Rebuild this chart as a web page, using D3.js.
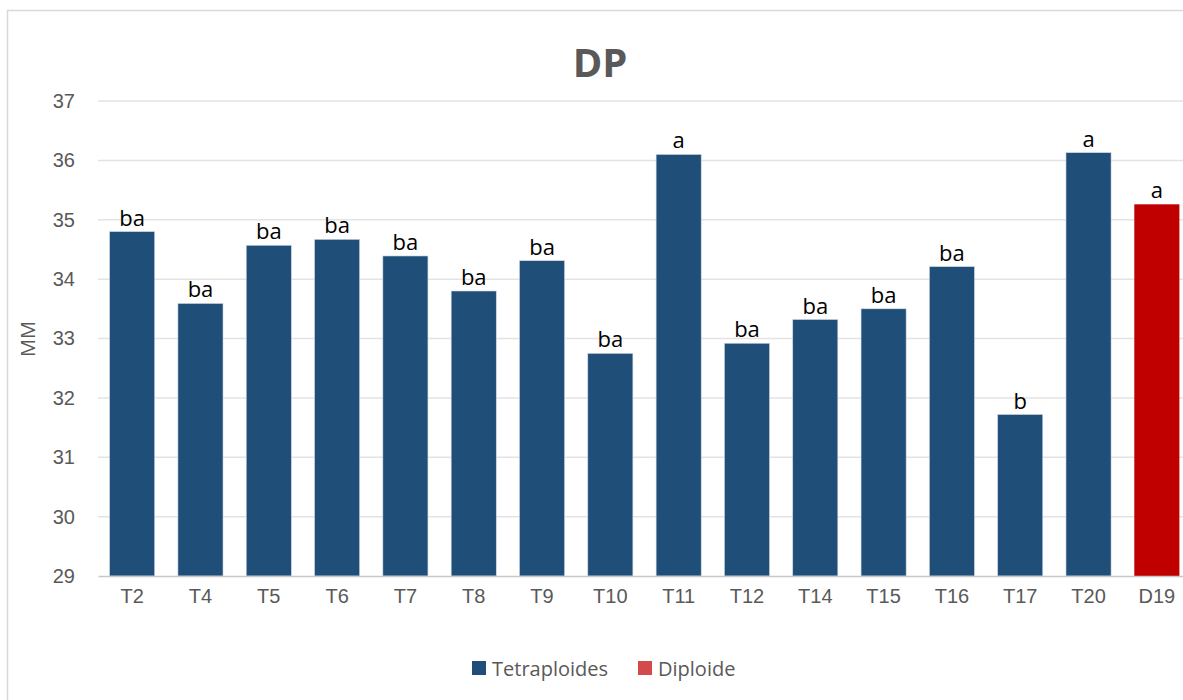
<!DOCTYPE html>
<html>
<head>
<meta charset="utf-8">
<script src="https://cdn.jsdelivr.net/npm/d3@7"></script>
<style>
  body { margin: 0; background: #fff; }
  svg { font-family: "Open Sans", "Noto Sans", sans-serif; }
</style>
</head>
<body>
<svg id="chart" width="1183" height="700"></svg>
<script>
// chart values
var categories = ["T2","T4","T5","T6","T7","T8","T9","T10","T11","T12","T14","T15","T16","T17","T20","D19"];
var values = [34.80, 33.59, 34.57, 34.67, 34.39, 33.80, 34.31, 32.75, 36.10, 32.92, 33.32, 33.50, 34.21, 31.72, 36.13, 35.26];
var letters = ["ba","ba","ba","ba","ba","ba","ba","ba","a","ba","ba","ba","ba","b","a","a"];
var groups = ["Tetraploides","Tetraploides","Tetraploides","Tetraploides","Tetraploides","Tetraploides","Tetraploides","Tetraploides","Tetraploides","Tetraploides","Tetraploides","Tetraploides","Tetraploides","Tetraploides","Tetraploides","Diploide"];
var yTicks = [29, 30, 31, 32, 33, 34, 35, 36, 37];
var legendNames = ["Tetraploides", "Diploide"];

var barColor = {"Tetraploides": "#1F4E79", "Diploide": "#C00000"};
var legendColor = {"Tetraploides": "#1F4E79", "Diploide": "#D24A4A"};

var data = categories.map(function(c, i) {
  return {cat: c, val: values[i], letter: letters[i], group: groups[i]};
});

var svg = d3.select("#chart");

// outer border
svg.append("rect")
  .attr("x", 7.5).attr("y", 10.5)
  .attr("width", 1200).attr("height", 700)
  .attr("fill", "none")
  .attr("stroke", "#d9d9d9")
  .attr("stroke-width", 1.5);

var x = d3.scaleBand()
  .domain(categories)
  .range([98, 1191])
  .paddingInner(0.34)
  .paddingOuter(0.17);

var y = d3.scaleLinear()
  .domain([29, 37])
  .range([576, 101]);

// gridlines
svg.append("g").selectAll("line")
  .data(yTicks.slice(1))
  .enter().append("line")
  .attr("x1", 98).attr("x2", 1191)
  .attr("y1", function(d) { return y(d); })
  .attr("y2", function(d) { return y(d); })
  .attr("stroke", "#e3e3e3")
  .attr("stroke-width", 1.5);

// y axis labels
var yAxis = svg.append("g")
  .attr("transform", "translate(98,0)")
  .call(d3.axisLeft(y).tickValues(yTicks).tickSize(0).tickPadding(23));
yAxis.select(".domain").remove();
yAxis.selectAll("text")
  .attr("fill", "#595959")
  .style("font-size", "20px");

// bars
svg.selectAll(".bar")
  .data(data)
  .enter().append("rect")
  .attr("class", "bar")
  .attr("x", function(d) { return x(d.cat); })
  .attr("width", x.bandwidth())
  .attr("y", function(d) { return y(d.val); })
  .attr("height", function(d) { return y(29) - y(d.val); })
  .attr("fill", function(d) { return barColor[d.group]; })
  .attr("stroke", function(d) { return d.group == "Diploide" ? "none" : "#cfd8e3"; })
  .attr("stroke-width", 0.6);

// letters above bars
svg.selectAll(".barText")
  .data(data)
  .enter().append("text")
  .attr("class", "barText")
  .attr("x", function(d) { return x(d.cat) + x.bandwidth() / 2; })
  .attr("y", function(d) { return y(d.val) - 6; })
  .attr("text-anchor", "middle")
  .attr("fill", "#000")
  .style("font-size", "22px")
  .text(function(d) { return d.letter; });

// x axis
var xAxis = svg.append("g")
  .attr("transform", "translate(0,576)")
  .call(d3.axisBottom(x).tickSize(0).tickPadding(13));
xAxis.select(".domain")
  .attr("stroke", "#c8c8c8")
  .attr("stroke-width", 1.5);
xAxis.selectAll("text")
  .attr("fill", "#595959")
  .style("font-size", "20px");

// title
svg.append("text")
  .attr("x", 600).attr("y", 77)
  .attr("text-anchor", "middle")
  .attr("fill", "#595959")
  .style("font-size", "40px")
  .style("font-weight", "bold")
  .text("DP");

// y title
svg.append("text")
  .attr("transform", "translate(35,339) rotate(-90)")
  .attr("text-anchor", "middle")
  .attr("fill", "#595959")
  .style("font-size", "20px")
  .text("MM");

// legend
var legendX = [472, 638];
var legend = svg.append("g").selectAll("g")
  .data(legendNames)
  .enter().append("g")
  .attr("transform", function(d, i) { return "translate(" + legendX[i] + ",661)"; });
legend.append("rect")
  .attr("width", 14).attr("height", 14)
  .attr("fill", function(d) { return legendColor[d]; });
legend.append("text")
  .attr("x", 20).attr("y", 15)
  .attr("fill", "#595959")
  .style("font-size", "20px")
  .text(function(d) { return d; });
</script>
</body>
</html>
